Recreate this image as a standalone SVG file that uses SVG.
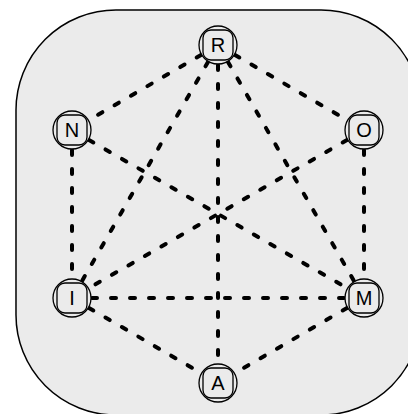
<svg xmlns="http://www.w3.org/2000/svg" width="408" height="414" viewBox="0 0 408 414">
<style>
.bg{fill:#ebebeb;stroke:#000;stroke-width:1.5}
.e{stroke:#000;stroke-width:4;stroke-dasharray:5 14;stroke-linecap:round;fill:none}
.n circle{fill:#ebebeb;stroke:#000;stroke-width:1.3}
.n rect{fill:none;stroke:#000;stroke-width:1.3}
.n text{font-family:"Liberation Sans",Arial,sans-serif;font-size:20px;text-anchor:middle;fill:#000}
</style>
<rect class="bg" x="16" y="10" width="405" height="405" rx="100" ry="100"/>
<g id="edges">
<line class="e" x1="201" y1="55" x2="89" y2="120"/>
<line class="e" x1="235" y1="55" x2="347" y2="120"/>
<line class="e" x1="208" y1="62" x2="82" y2="281"/>
<line class="e" x1="228" y1="62" x2="354" y2="281"/>
<line class="e" x1="218" y1="65" x2="218" y2="363"/>
<line class="e" x1="72" y1="150" x2="72" y2="278"/>
<line class="e" x1="364" y1="150" x2="364" y2="278"/>
<line class="e" x1="89" y1="140" x2="347" y2="288"/>
<line class="e" x1="347" y1="140" x2="89" y2="288"/>
<line class="e" x1="92" y1="298" x2="344" y2="298"/>
<line class="e" x1="89" y1="308" x2="201" y2="373"/>
<line class="e" x1="347" y1="308" x2="235" y2="373"/>
</g>
<g id="R" class="n"><circle cx="218" cy="45" r="19"/><rect x="203" y="30" width="30" height="30" rx="8"/><text x="218" y="52">R</text></g>
<g id="N" class="n"><circle cx="72" cy="130" r="19"/><rect x="57" y="115" width="30" height="30" rx="8"/><text x="72" y="137">N</text></g>
<g id="O" class="n"><circle cx="364" cy="130" r="19"/><rect x="349" y="115" width="30" height="30" rx="8"/><text x="364" y="137">O</text></g>
<g id="I" class="n"><circle cx="72" cy="298" r="19"/><rect x="57" y="283" width="30" height="30" rx="8"/><text x="72" y="305">I</text></g>
<g id="M" class="n"><circle cx="364" cy="298" r="19"/><rect x="349" y="283" width="30" height="30" rx="8"/><text x="364" y="305">M</text></g>
<g id="A" class="n"><circle cx="218" cy="383" r="19"/><rect x="203" y="368" width="30" height="30" rx="8"/><text x="218" y="390">A</text></g>
</svg>
